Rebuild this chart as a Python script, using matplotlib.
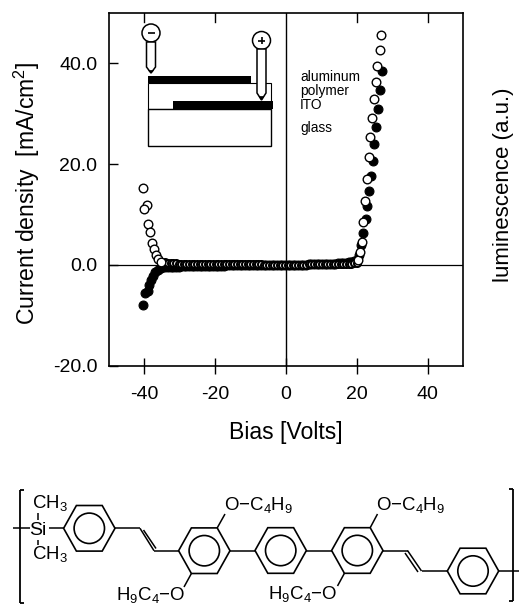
import numpy as np
import matplotlib
matplotlib.use('Agg')
import matplotlib.pyplot as plt
from matplotlib.patches import Rectangle, Circle, Polygon

plt.rcParams['font.family'] = ['Liberation Sans', 'DejaVu Sans']
plt.rcParams['mathtext.fontset'] = 'custom'
plt.rcParams['mathtext.rm'] = 'Liberation Sans'

# current density curves, open = sweep up, filled = sweep down
bias_mid = [-34.0, -33.25, -32.5, -31.75, -31.0, -30.25, -29.5, -28.75, -28.0, -27.25,
            -26.5, -25.75, -25.0, -24.25, -23.5, -22.75, -22.0, -21.25, -20.5, -19.75,
            -19.0, -18.25, -17.5, -16.75, -16.0, -15.25, -14.5, -13.75, -13.0, -12.25,
            -11.5, -10.75, -10.0, -9.25, -8.5, -7.75, -7.0, -6.25, -5.5, -4.75,
            -4.0, -3.25, -2.5, -1.75, -1.0, -0.25, 0.5, 1.25, 2.0, 2.75,
            3.5, 4.25, 5.0, 5.75, 6.5, 7.25, 8.0, 8.75, 9.5, 10.25,
            11.0, 11.75, 12.5, 13.25, 14.0, 14.75, 15.5, 16.25, 17.0, 17.75, 18.5, 19.25, 20.0]
open_mid = [0.50, 0.42, 0.36, 0.32, 0.28, 0.25, 0.23, 0.21, 0.20, 0.19,
            0.18, 0.17, 0.16, 0.15, 0.14, 0.14, 0.13, 0.13, 0.12, 0.12,
            0.11, 0.11, 0.10, 0.10, 0.10, 0.09, 0.09, 0.09, 0.08, 0.08,
            0.08, 0.07, 0.07, 0.07, 0.06, 0.06, 0.06, 0.05, 0.05, 0.05,
            0.04, 0.04, 0.03, 0.03, 0.02, 0.02, 0.02, 0.03, 0.03, 0.03,
            0.04, 0.04, 0.05, 0.05, 0.06, 0.06, 0.07, 0.07, 0.08, 0.09,
            0.10, 0.11, 0.12, 0.13, 0.14, 0.15, 0.16, 0.18, 0.20, 0.22, 0.25, 0.30, 0.40]
filled_mid = [-0.50, -0.45, -0.42, -0.40, -0.38, -0.36, -0.34, -0.32, -0.30, -0.28,
              -0.27, -0.26, -0.25, -0.24, -0.23, -0.22, -0.21, -0.20, -0.19, -0.18,
              -0.17, -0.16, -0.15, -0.14, -0.13, -0.12, -0.11, -0.10, -0.10, -0.09,
              -0.09, -0.08, -0.08, -0.07, -0.07, -0.06, -0.06, -0.05, -0.05, -0.04,
              -0.04, -0.03, -0.02, -0.02, -0.01, 0.00, 0.00, 0.01, 0.01, 0.02,
              0.02, 0.03, 0.04, 0.05, 0.06, 0.07, 0.08, 0.09, 0.10, 0.12,
              0.14, 0.16, 0.18, 0.20, 0.24, 0.28, 0.32, 0.38, 0.44, 0.52, 0.62, 0.75, 1.0]

open_left_v = [-40.3, -39.2, -40.0, -38.9, -38.4, -37.8, -37.2, -36.6, -35.9, -35.1]
open_left_j = [15.3, 11.8, 11.1, 8.1, 6.6, 4.3, 3.1, 2.0, 1.1, 0.6]
open_right_v = [20.5, 21.0, 21.5, 21.9, 22.4, 22.9, 23.4, 23.9, 24.3, 24.9, 25.4, 25.8, 26.5, 26.9]
open_right_j = [1.0, 2.5, 4.6, 8.5, 12.6, 17.1, 21.4, 25.4, 29.2, 32.9, 36.2, 39.5, 42.6, 45.7]

filled_left_v = [-40.3, -39.8, -38.9, -38.6, -38.1, -37.5, -36.8, -36.0, -35.2]
filled_left_j = [-8.0, -5.6, -5.3, -4.0, -3.0, -2.2, -1.5, -1.0, -0.7]
filled_right_v = [20.6, 21.3, 21.9, 22.6, 23.0, 23.5, 24.0, 24.6, 25.0, 25.4, 26.0, 26.7, 27.1]
filled_right_j = [2.0, 4.0, 6.4, 9.1, 11.6, 14.6, 17.6, 20.6, 23.9, 27.4, 30.9, 34.7, 38.5]

x_ticks = [-40, -20, 0, 20, 40]
y_ticks = [-20.0, 0.0, 20.0, 40.0]

W, H = 519, 605
fig = plt.figure(figsize=(W/100, H/100), dpi=100)
ax = fig.add_axes([108.5/W, 1-365.5/H, (463-108.5)/W, (365.5-13)/H])

ax.axhline(0, color='black', lw=0.9, zorder=1)
ax.axvline(0, color='black', lw=1.0, zorder=1)
ax.plot(filled_left_v + bias_mid + filled_right_v, filled_left_j + filled_mid + filled_right_j,
        'o', ms=6.4, mfc='black', mec='black', mew=0.8, zorder=2)
# the dense flat part reads as an almost solid band
ax.plot(bias_mid, open_mid, 'o', ms=5.0, mfc='white', mec='black', mew=1.5, zorder=3)
ax.plot(open_left_v, open_left_j, 'o', ms=6.2, mfc='white', mec='black', mew=1.0, zorder=3)
ax.plot(open_right_v, open_right_j, 'o', ms=6.2, mfc='white', mec='black', mew=1.0, zorder=3)

ax.set_xlim(-50, 50)
ax.set_ylim(-20, 50)
ax.set_xticks(x_ticks)
ax.set_xticklabels([str(t) for t in x_ticks], fontsize=14)
ax.set_yticks(y_ticks)
ax.set_yticklabels(['%.1f' % t for t in y_ticks], fontsize=14)
ax.tick_params(axis='x', which='both', direction='inout', length=12, width=1.0, pad=9, top=False)
ax.tick_params(axis='y', direction='in', length=6.5, width=1.0, pad=8)
for t in x_ticks:
    if t != 0:
        ax.plot([t, t], [50, 48.2], color='black', lw=1.0, zorder=1)
for s in ax.spines.values():
    s.set_linewidth(1.2)
fig.text(286/W, 1-433/H, 'Bias [Volts]', fontsize=16.6, ha='center', va='center')
fig.text(27/W, 1-193/H, 'Current density  [mA/cm$^{2}$]', rotation=90, fontsize=16.6, ha='center', va='center')
fig.text(503/W, 1-185/H, 'luminescence (a.u.)', rotation=90, fontsize=16, ha='center', va='center')

# overlay in pixel coordinates for the device sketch and the molecule
ov = fig.add_axes([0, 0, 1, 1], facecolor='none')
ov.set_xlim(0, W)
ov.set_ylim(H, 0)
ov.axis('off')


def line(x0, y0, x1, y1, lw=1.1):
    ov.plot([x0, x1], [y0, y1], color='black', lw=lw, solid_capstyle='butt')


def ring(cx, cy):
    rx, dx, dy = 25.7, 12.9, 22.8
    pts = [(cx-rx, cy), (cx-dx, cy-dy), (cx+dx, cy-dy), (cx+rx, cy), (cx+dx, cy+dy), (cx-dx, cy+dy)]
    ov.add_patch(Polygon(pts, closed=True, fc='none', ec='black', lw=1.2))
    ov.add_patch(Circle((cx, cy), 15.2, fc='none', ec='black', lw=1.2))


def pen(cx, cy, r, top, bottom, tip, sign):
    ov.add_patch(Circle((cx, cy), r, fc='white', ec='black', lw=1.1))
    ov.add_patch(Polygon([(cx-4.5, top), (cx+4.5, top), (cx+4.5, bottom), (cx, tip), (cx-4.5, bottom)],
                         closed=True, fc='white', ec='black', lw=1.1))
    ov.add_patch(Polygon([(cx-2.5, bottom+3.5), (cx+2.5, bottom+3.5), (cx, tip)], closed=True, fc='black', ec='black', lw=0.5))
    line(cx-3.5, cy, cx+3.5, cy, 1.2)
    if sign == '+':
        line(cx, cy-3.5, cx, cy+3.5, 1.2)


# device sketch
ov.add_patch(Rectangle((148, 83), 123, 26, fc='white', ec='black', lw=0.8))
ov.add_patch(Rectangle((148, 109), 123, 37, fc='white', ec='black', lw=1.0))
ov.add_patch(Rectangle((148, 76), 103, 7, fc='black', ec='none'))
ov.add_patch(Rectangle((173, 101), 100, 8, fc='black', ec='none'))
pen(151, 33, 9, 42, 67, 73, '-')
pen(261.5, 40.5, 9, 49, 93, 100, '+')
for label, y in zip(['aluminum', 'polymer', 'ITO', 'glass'], [77, 91, 105, 128]):
    ov.text(300, y, label, fontsize=9.9, ha='left', va='center')

# molecule
ring(89.3, 528.3)
ring(204.3, 550.7)
ring(280.7, 550.5)
ring(357.3, 550.5)
ring(473.0, 571.0)

line(19.5, 490, 19.5, 603, 1.3)
line(19.5, 490, 24, 490, 1.3)
line(19.5, 603, 24, 603, 1.3)
line(513, 489, 513, 601, 1.3)
line(508.5, 489, 513, 489, 1.3)
line(508.5, 601, 513, 601, 1.3)
line(13, 528, 30, 528)
line(38, 513, 38, 520)
line(38, 540, 38, 545)
line(49, 528, 63.6, 528)

# vinylene links
line(115, 528.3, 140, 528.3)
line(140, 528.3, 154, 550.7)
line(143.5, 530, 156, 548.5)
line(154, 550.7, 178.6, 550.7)
line(383, 550.5, 407.5, 550.5)
line(407.5, 550.5, 421.5, 571)
line(405, 553, 418, 572)
line(421.5, 571, 447.3, 571)
line(230, 550.7, 255, 550.7)
line(306.4, 550.5, 331.6, 550.5)
line(499, 571, 519, 571)

# oxygen bonds
line(217.2, 527.9, 225, 514)
line(191.4, 573.5, 184, 587)
line(370.2, 527.7, 377.5, 514)
line(344.4, 573.3, 337.5, 586)

ts = 13.4
ov.text(38, 530.5, 'Si', fontsize=ts+0.6, ha='center', va='center')
ov.text(31.5, 504, 'CH$_3$', fontsize=ts, ha='left', va='center')
ov.text(31.5, 555, 'CH$_3$', fontsize=ts, ha='left', va='center')
ov.text(223.5, 506, 'O$-$C$_4$H$_9$', fontsize=ts, ha='left', va='center')
ov.text(376.5, 506, 'O$-$C$_4$H$_9$', fontsize=ts, ha='left', va='center')
ov.text(116, 596, 'H$_9$C$_4$$-$O', fontsize=ts, ha='left', va='center')
ov.text(268, 595, 'H$_9$C$_4$$-$O', fontsize=ts, ha='left', va='center')

fig.savefig('out.png', dpi=100)
